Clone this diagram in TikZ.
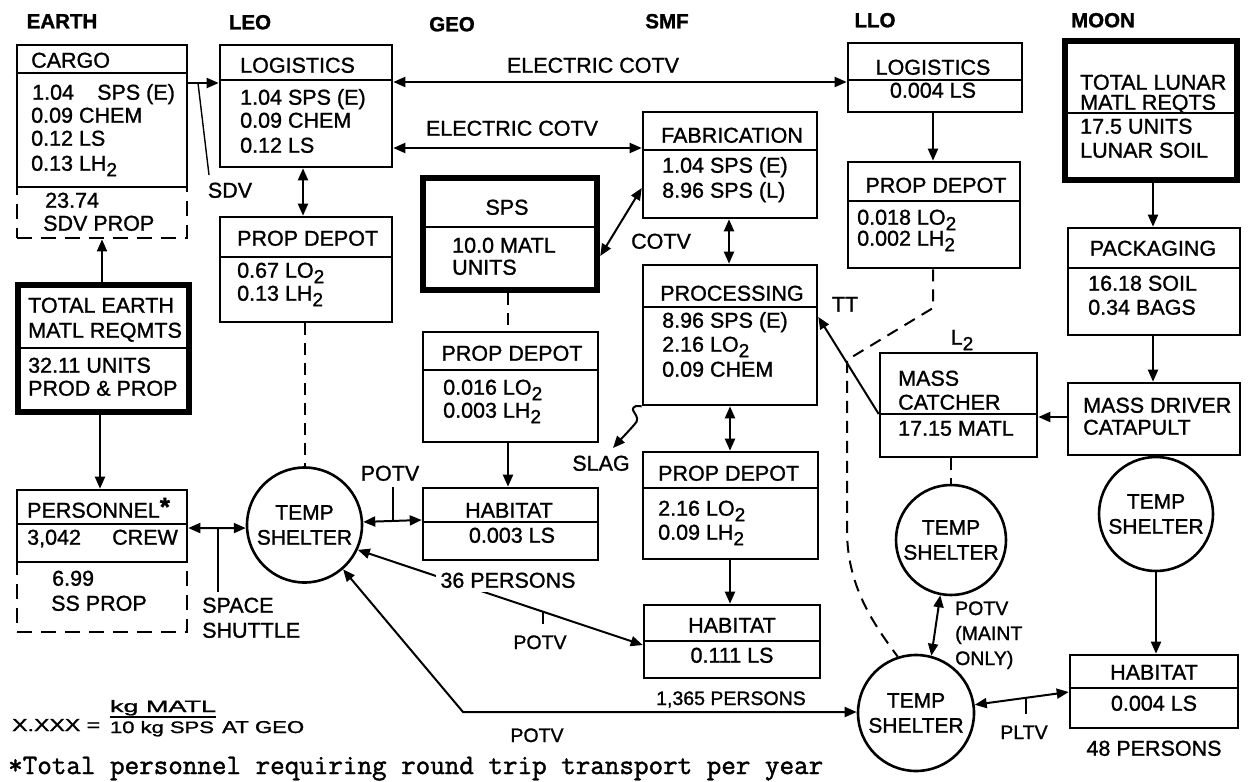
\documentclass[tikz,border=0pt]{standalone}
\usepackage{graphicx}
\usepackage{fontspec}
\setmainfont{Liberation Sans}[FakeBold=1.2]
\setmonofont{Latin Modern Mono}[FakeBold=1.5]
\usetikzlibrary{arrows.meta}
\newcommand\lowtwo{\raisebox{-5.5pt}{\fontsize{19}{19}\selectfont 2}}
\newcommand\boxat[6]{\node[#6,minimum width={#4-#2},minimum height={#5-#3}] (#1) at ({(#2+#4)/2},{(#3+#5)/2}) {};}
\begin{document}
\begin{tikzpicture}[x=1pt,y=-1pt,
 >={Triangle[length=12pt,width=10pt]},
 box/.style={draw,line width=2.6pt,inner sep=0pt},
 thickbox/.style={draw,line width=6.5pt,inner sep=0pt},
 extbox/.style={draw,line width=2.8pt,dash pattern=on 15pt off 9pt,inner sep=0pt},
 divline/.style={line width=2.4pt},
 conn/.style={line width=2pt},
 dline/.style={line width=2pt,dash pattern=on 12pt off 8pt},
 tickline/.style={line width=1.4pt},
 shelter/.style={draw,circle,line width=2.6pt,inner sep=0pt,align=center,font=\fontsize{21}{25}\selectfont},
 t/.style={inner sep=0pt,font=\fontsize{21.5}{23}\selectfont,text height=15.4pt,text depth=0pt},
 h/.style={inner sep=0pt,font=\bfseries\fontsize{20.5}{22}\selectfont,text height=14.6pt,text depth=0pt},
 s/.style={inner sep=0pt,font=\fontsize{19.5}{21}\selectfont,text height=14pt,text depth=0pt},
]
\fill[white] (0,0) rectangle (1249,781);
\useasboundingbox (0,0) rectangle (1249,781);

% headers
\node[h] (hEarth) at (62,21) {EARTH};
\node[h] (hLeo) at (250,22) {LEO};
\node[h] (hGeo) at (452,24) {GEO};
\node[h] (hSmf) at (667,21) {SMF};
\node[h] (hLlo) at (875,20) {LLO};
\node[h] (hMoon) at (1103,20) {MOON};

% boxes
\boxat{cargoext}{17}{187}{187}{238}{extbox}
\boxat{cargo}{17}{45}{187}{187}{box}
\boxat{leolog}{220}{45}{392}{167}{box}
\boxat{leoprop}{220}{217}{392}{322}{box}
\boxat{earthtot}{18}{285}{189}{412}{thickbox}
\boxat{persext}{17}{562}{187}{632}{extbox}
\boxat{personnel}{17}{490}{187}{562}{box}
\boxat{sps}{423}{178}{597}{290}{thickbox}
\boxat{geoprop}{423}{332}{598}{442}{box}
\boxat{geohab}{423}{488}{598}{560}{box}
\boxat{fab}{643}{112}{817}{218}{box}
\boxat{proc}{643}{265}{817}{405}{box}
\boxat{smfprop}{643}{452}{818}{559}{box}
\boxat{smfhab}{644}{605}{820}{678}{box}
\boxat{llolog}{848}{43}{1022}{112}{box}
\boxat{lloprop}{848}{162}{1020}{268}{box}
\boxat{lunartot}{1065}{41}{1237}{180}{thickbox}
\boxat{pack}{1068}{228}{1240}{335}{box}
\boxat{massdrv}{1068}{383}{1240}{455}{box}
\boxat{catcher}{880}{353}{1037}{457}{box}
\boxat{moonhab}{1070}{655}{1238}{728}{box}

% shelters
\node[shelter,minimum size=115pt] (leoshelter) at (304.5,525) {TEMP\\SHELTER};
\node[shelter,minimum size=110pt] (l2shelter) at (951,540) {TEMP\\SHELTER};
\node[shelter,minimum size=114pt] (moonshelter) at (1156,514) {TEMP\\SHELTER};
\node[shelter,minimum size=116pt] (lowshelter) at (916,713) {TEMP\\SHELTER};

% dividers
\draw[divline] (cargo.west |- 0,73) -- (cargo.east |- 0,73);
\draw[divline] (leolog.west |- 0,80) -- (leolog.east |- 0,80);
\draw[divline] (leoprop.west |- 0,257) -- (leoprop.east |- 0,257);
\draw[divline] (earthtot.west |- 0,348) -- (earthtot.east |- 0,348);
\draw[divline] (personnel.west |- 0,524) -- (personnel.east |- 0,524);
\draw[divline] (sps.west |- 0,227) -- (sps.east |- 0,227);
\draw[divline] (geoprop.west |- 0,370) -- (geoprop.east |- 0,370);
\draw[divline] (geohab.west |- 0,522) -- (geohab.east |- 0,522);
\draw[divline] (fab.west |- 0,150) -- (fab.east |- 0,150);
\draw[divline] (proc.west |- 0,307) -- (proc.east |- 0,307);
\draw[divline] (smfprop.west |- 0,488) -- (smfprop.east |- 0,488);
\draw[divline] (smfhab.west |- 0,641) -- (smfhab.east |- 0,641);
\draw[divline] (llolog.west |- 0,80) -- (llolog.east |- 0,80);
\draw[divline] (lloprop.west |- 0,201) -- (lloprop.east |- 0,201);
\draw[divline] (lunartot.west |- 0,113) -- (lunartot.east |- 0,113);
\draw[divline] (pack.west |- 0,268) -- (pack.east |- 0,268);
\draw[divline] (catcher.west |- 0,414) -- (catcher.east |- 0,414);
\draw[divline] (moonhab.west |- 0,688) -- (moonhab.east |- 0,688);

% box texts
\node[t,anchor=west] (cargoT) at (31,60) {CARGO};
\node[t,anchor=west] (c1a) at (32,92) {1.04};
\node[t,anchor=west] (c1b) at (97,92) {SPS (E)};
\node[t,anchor=west] (c2) at (31,115) {0.09 CHEM};
\node[t,anchor=west] (c3) at (31,138) {0.12 LS};
\node[t,anchor=west] (c4) at (31,163) {0.13 LH\lowtwo};
\node[t,anchor=west] (c5) at (45,200) {23.74};
\node[t,anchor=west] (c6) at (43,223) {SDV PROP};

\node[t,anchor=west] (l0) at (240,65) {LOGISTICS};
\node[t,anchor=west] (l1) at (240,97) {1.04 SPS (E)};
\node[t,anchor=west] (l2) at (240,120) {0.09 CHEM};
\node[t,anchor=west] (l3) at (240,145) {0.12 LS};

\node[t,anchor=west] (p0) at (237,238) {PROP DEPOT};
\node[t,anchor=west] (p1) at (237,270) {0.67 LO\lowtwo};
\node[t,anchor=west] (p2) at (237,293) {0.13 LH\lowtwo};

\node[t,anchor=west] (e0) at (28,305) {TOTAL EARTH};
\node[t,anchor=west] (e1) at (28,330) {MATL REQMTS};
\node[t,anchor=west] (e2) at (28,365) {32.11 UNITS};
\node[t,anchor=west] (e3) at (28,388) {PROD \& PROP};

\node[t,anchor=west] (r0) at (27,510) {PERSONNEL\raisebox{2pt}{\fontsize{26}{26}\selectfont\bfseries *}};
\node[t,anchor=west] (r1) at (27,537) {3,042};
\node[t,anchor=west] (r2) at (112,537) {CREW};
\node[t,anchor=west] (r3) at (52,578) {6.99};
\node[t,anchor=west] (r4) at (51,603) {SS PROP};

\node[t] (s0) at (507,207) {SPS};
\node[t,anchor=west] (s1) at (452,245) {10.0 MATL};
\node[t,anchor=west] (s2) at (452,267) {UNITS};

\node[t] (g0) at (512,353) {PROP DEPOT};
\node[t,anchor=west] (g1) at (443,387) {0.016 LO\lowtwo};
\node[t,anchor=west] (g2) at (443,410) {0.003 LH\lowtwo};

\node[t] (gh0) at (509,510) {HABITAT};
\node[t] (gh1) at (512,535) {0.003 LS};

\node[t] (f0) at (732,135) {FABRICATION};
\node[t,anchor=west] (f1) at (662,165) {1.04 SPS (E)};
\node[t,anchor=west] (f2) at (662,190) {8.96 SPS (L)};

\node[t] (pr0) at (732,293) {PROCESSING};
\node[t,anchor=west] (pr1) at (662,320) {8.96 SPS (E)};
\node[t,anchor=west] (pr2) at (662,344) {2.16 LO\lowtwo};
\node[t,anchor=west] (pr3) at (662,369) {0.09 CHEM};

\node[t,anchor=west] (sp0) at (658,473) {PROP DEPOT};
\node[t,anchor=west] (sp1) at (658,508) {2.16 LO\lowtwo};
\node[t,anchor=west] (sp2) at (658,532) {0.09 LH\lowtwo};

\node[t] (sh0) at (732,625) {HABITAT};
\node[t] (sh1) at (732,655) {0.111 LS};

\node[t] (ll0) at (933,67) {LOGISTICS};
\node[t] (ll1) at (933,90) {0.004 LS};

\node[t] (lp0) at (936,185) {PROP DEPOT};
\node[t,anchor=west] (lp1) at (857,217) {0.018 LO\lowtwo};
\node[t,anchor=west] (lp2) at (857,238) {0.002 LH\lowtwo};

\node[t,anchor=west] (m0) at (1080,82) {TOTAL LUNAR};
\node[t,anchor=west] (m1) at (1080,102) {MATL REQTS};
\node[t,anchor=west] (m2) at (1080,126) {17.5 UNITS};
\node[t,anchor=west] (m3) at (1080,150) {LUNAR SOIL};

\node[t] (pk0) at (1153,248) {PACKAGING};
\node[t,anchor=west] (pk1) at (1088,283) {16.18 SOIL};
\node[t,anchor=west] (pk2) at (1088,307) {0.34 BAGS};

\node[t,anchor=west] (md0) at (1083,405) {MASS DRIVER};
\node[t,anchor=west] (md1) at (1083,427) {CATAPULT};

\node[t,anchor=west] (mc0) at (898,378) {MASS};
\node[t,anchor=west] (mc1) at (898,402) {CATCHER};
\node[t,anchor=west] (mc2) at (898,428) {17.15 MATL};

\node[t] (mh0) at (1154,672) {HABITAT};
\node[t] (mh1) at (1154,703) {0.004 LS};

% connectors
\coordinate (sdvA) at (198,83);
\coordinate (sdvB) at (209,175);
\draw[conn,->] (cargo.east |- 0,83) -- (leolog.west |- 0,83);
\draw[tickline] (sdvA) -- (sdvB);
\draw[conn,<->] (leolog.east |- 0,82) -- (llolog.west |- 0,82);
\draw[conn,<->] (leolog.east |- 0,148) -- (fab.west |- 0,148);
\draw[conn,<->] (leolog.south -| 303,0) -- (leoprop.north -| 303,0);
\draw[dline] (leoprop.south -| leoshelter.north) -- (leoshelter.north);
\draw[conn,->] (earthtot.north -| 102,0) -- (cargoext.south -| 102,0);
\draw[conn,->] (earthtot.south -| 100,0) -- (personnel.north -| 100,0);
\draw[conn,<->] (personnel.east |- 0,528) -- (leoshelter.183);
\coordinate (stA) at (218,528);
\coordinate (stB) at (218,592);
\draw[tickline] (stA) -- (stB);
\draw[conn,<->] (leoshelter.3) -- (geohab.west |- 0,520);
\coordinate (ptA) at (393,521);
\coordinate (ptB) at (393,487);
\draw[tickline] (ptA) -- (ptB);
\draw[dline] (sps.south -| 508,0) -- (geoprop.north -| 508,0);
\draw[conn,->] (geoprop.south -| 508,0) -- (geohab.north -| 508,0);
\draw[conn,<->] (sps.east |- 0,256) -- (fab.west |- 0,188);
\draw[conn,<->] (fab.south -| 729,0) -- (proc.north -| 729,0);
\draw[conn,<->] (proc.south -| 730,0) -- (smfprop.north -| 730,0);
\draw[conn,->] (smfprop.south -| 730,0) -- (smfhab.north -| 730,0);
\coordinate (sl1) at (636,406);
\coordinate (sl2) at (634,425);
\coordinate (sltip) at (613,448);
\draw[conn,->] (proc.south west) -- (sl1) .. controls (626,410) and (644,416) .. (sl2) .. controls (626,434) and (622,438) .. (sltip);
\draw[conn,->] (catcher.west |- 0,414) -- (proc.east |- 0,317);
\draw[conn,->] (llolog.south -| 933,0) -- (lloprop.north -| 933,0);
\coordinate (d1) at (933,308);
\coordinate (d2) at (847,360);
\coordinate (d3) at (847,530);
\draw[dline] (lloprop.south -| 933,0) -- (d1) -- (d2) -- (d3) .. controls (847,585) and (872,622) .. (lowshelter.108);
\draw[conn,->] (lunartot.south -| 1153,0) -- (pack.north -| 1153,0);
\draw[conn,->] (pack.south -| 1153,0) -- (massdrv.north -| 1153,0);
\draw[conn,->] (massdrv.west |- 0,417) -- (catcher.east |- 0,417);
\draw[dline] (catcher.south -| l2shelter.north) -- (l2shelter.north);
\draw[conn,<->] (l2shelter.-101) -- (lowshelter.75);
\draw[conn,->] (moonshelter.south) -- (moonshelter.south |- moonhab.north);
\draw[conn,<->] (lowshelter.8) -- (moonhab.west |- 0,692);
\coordinate (plA) at (1026,698);
\coordinate (plB) at (1026,714);
\draw[tickline] (plA) -- (plB);
\coordinate (bp) at (463,712);
\draw[conn,<->] (leoshelter.-49) -- (bp) -- (lowshelter.west |- 0,712);
\draw[conn,<->] (leoshelter.-25) -- (smfhab.west |- 0,645);
\coordinate (p2A) at (543,612);
\coordinate (p2B) at (543,624);
\draw[tickline] (p2A) -- (p2B);

% labels
\node[t] (lbEc1) at (593,65) {ELECTRIC COTV};
\node[t] (lbEc2) at (512,128) {ELECTRIC COTV};
\node[t] (lbSdv) at (230,190) {SDV};
\node[t] (lbCotv) at (661,241) {COTV};
\node[t] (lbSlag) at (601,463) {SLAG};
\node[t] (lbTT) at (845,304) {TT};
\node[t] (lbL2) at (962,337) {L\lowtwo};
\node[t] (lbPotv1) at (390,473) {POTV};
\node[t,fill=white,inner sep=4pt] (lb36) at (508,580) {36 PERSONS};
\node[s] (lbPotv2) at (540,642) {POTV};
\node[t,anchor=west] (lbSpace) at (202,605) {SPACE};
\node[t,anchor=west] (lbShuttle) at (202,630) {SHUTTLE};
\node[s] (lbPotv3) at (537,735) {POTV};
\node[s,anchor=west] (lbPotv4) at (955,608) {POTV};
\node[s,anchor=west] (lbMaint) at (955,633) {(MAINT};
\node[s,anchor=west] (lbOnly) at (955,658) {ONLY)};
\node[s] (lbPltv) at (1024,732) {PLTV};
\node[s] (lb1365) at (731,698) {1,365 PERSONS};
\node[t] (lb48) at (1154,748) {48 PERSONS};

% formula
\node[anchor=base west,inner sep=0pt] (fx) at (12,731) {\resizebox{88pt}{12pt}{X.XXX =}};
\node[anchor=base,inner sep=0pt] (fnum) at (163,712) {\resizebox{106pt}{12pt}{kg MATL}};
\node[anchor=base,inner sep=0pt] (fden) at (162,733) {\resizebox{104pt}{12pt}{10 kg SPS}};
\node[anchor=base west,inner sep=0pt] (fgeo) at (222,733) {\resizebox{82pt}{12pt}{AT GEO}};
\draw[line width=1.2pt] (fnum.west |- 0,717) -- (fnum.east |- 0,717);

% footnote
\node[anchor=base west,inner sep=0pt] (foot) at (8,774) {\resizebox{815pt}{!}{\ttfamily\fontsize{28}{30}\selectfont *Total personnel requiring round trip transport per year}};
\end{tikzpicture}
\end{document}
